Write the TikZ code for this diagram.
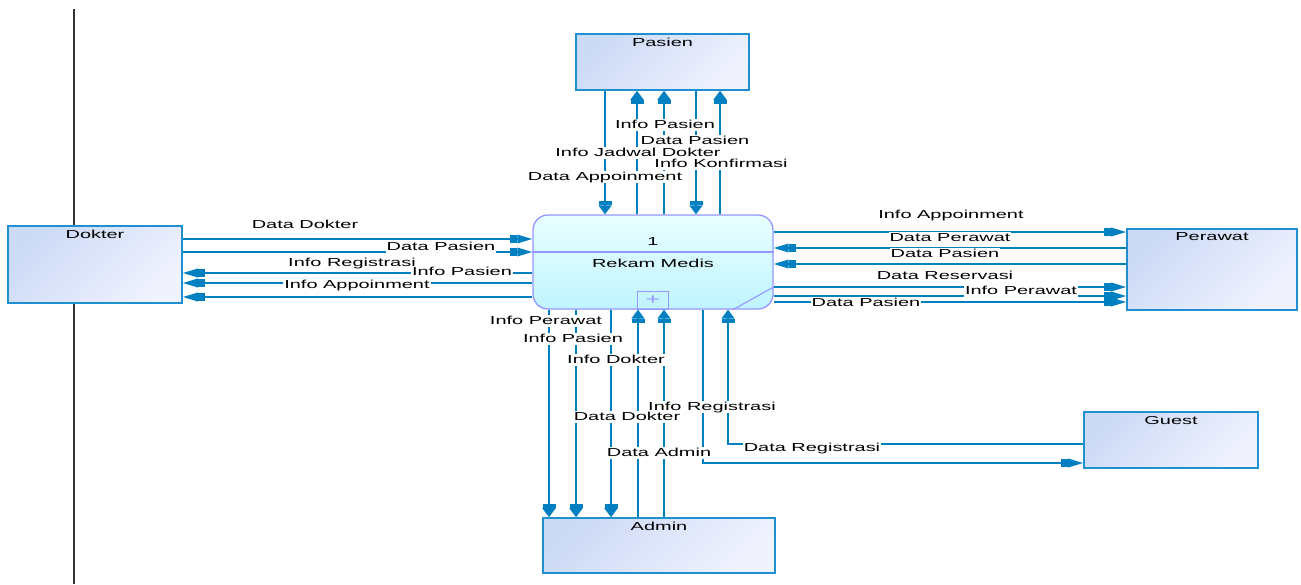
\documentclass[tikz,border=0pt]{standalone}
\usepackage{fontspec}
\setmainfont{Liberation Sans}[FakeStretch=1.72]
\usetikzlibrary{arrows.meta}

\definecolor{flowblue}{RGB}{0,128,192}
\definecolor{entline}{RGB}{30,144,208}
\definecolor{enttop}{RGB}{204,218,246}
\definecolor{entbot}{RGB}{240,242,254}
\definecolor{procline}{RGB}{150,150,255}
\definecolor{proctop}{RGB}{232,255,255}
\definecolor{procbot}{RGB}{192,244,255}

\begin{document}
\begin{tikzpicture}[x=1pt,y=-1pt,
  every node/.style={font=\fontsize{11.6}{13}\selectfont},
  entity/.style={draw=entline,line width=1.6pt,top color=enttop,bottom color=entbot,shading angle=45,inner sep=0pt},
  entlbl/.style={anchor=north,inner sep=0pt,yshift=-4.5pt},
  proc/.style={draw=procline,line width=1.3pt,rounded corners=15pt,top color=proctop,bottom color=procbot,minimum width=240,minimum height=94},
  subbox/.style={draw=procline,line width=1pt,minimum width=31,minimum height=18,inner sep=0pt,text=procline,font=\fontsize{15}{15}\selectfont},
  hflow/.style={draw=flowblue,line width=1.8pt,-{Rectangle[length=7pt,width=8.5pt]Triangle[length=15pt,width=8.5pt]}},
  vflow/.style={draw=flowblue,line width=1.8pt,-{Rectangle[length=4pt,width=13pt]Triangle[length=9pt,width=13pt]}},
  lbl/.style={fill=white,inner sep=1pt,text height=8pt,text depth=2pt},
  lane/.style={draw=black!80,line width=1.8pt}]
\path[use as bounding box,fill=white] (0,0) rectangle (1301,584);
% Lane
\draw[lane] (74,9) -- (74,584);
% Entities
\node[entity,minimum width=173,minimum height=56,label={[entlbl]north:Pasien}] (pasien) at (662.5,62) {};
\node[entity,minimum width=174,minimum height=77,label={[entlbl]north:Dokter}] (dokter) at (95,264.5) {};
\node[entity,minimum width=170,minimum height=81,label={[entlbl]north:Perawat}] (perawat) at (1212,269.5) {};
\node[entity,minimum width=174,minimum height=56,label={[entlbl]north:Guest}] (guest) at (1171,440) {};
\node[entity,minimum width=232,minimum height=55,label={[entlbl]north:Admin}] (admin) at (659,545.5) {};
% Process
\node[proc] (proc) at (653,262) {};
\draw[procline,line width=1.1pt] (proc.west |- 0,252) -- (proc.east |- 0,252);
\draw[procline,line width=1.1pt] (proc.south -| 733,0) -- (proc.east |- 0,287);
\node (pnum) at (653,242) {1};
\node (pname) at (653,263) {Rekam Medis};
\node[subbox] (sub) at (653,300.5) {+};
% Flows with Pasien
\draw[vflow] (pasien.south -| 605,0) -- (proc.north -| 605,0);
\draw[vflow] (proc.north -| 637,0) -- (pasien.south -| 637,0);
\draw[vflow] (proc.north -| 664,0) -- (pasien.south -| 664,0);
\draw[vflow] (pasien.south -| 696,0) -- (proc.north -| 696,0);
\draw[vflow] (proc.north -| 720,0) -- (pasien.south -| 720,0);
% Flows with Dokter
\draw[hflow] (dokter.east |- 0,239) -- (proc.west |- 0,239);
\draw[hflow] (dokter.east |- 0,252) -- (proc.west |- 0,252);
\draw[hflow] (proc.west |- 0,273) -- (dokter.east |- 0,273);
\draw[hflow] (proc.west |- 0,283) -- (dokter.east |- 0,283);
\draw[hflow] (proc.west |- 0,297) -- (dokter.east |- 0,297);
% Flows with Perawat
\draw[hflow] (proc.east |- 0,232) -- (perawat.west |- 0,232);
\draw[hflow] (perawat.west |- 0,248) -- (proc.east |- 0,248);
\draw[hflow] (perawat.west |- 0,264) -- (proc.east |- 0,264);
\draw[hflow] (proc.east |- 0,287) -- (perawat.west |- 0,287);
\draw[hflow] (proc.east |- 0,296) -- (perawat.west |- 0,296);
\draw[hflow] (proc.east |- 0,302) -- (perawat.west |- 0,302);
% Flows with Admin
\draw[vflow] (proc.south -| 549,0) -- (admin.north -| 549,0);
\draw[vflow] (proc.south -| 576,0) -- (admin.north -| 576,0);
\draw[vflow] (proc.south -| 611,0) -- (admin.north -| 611,0);
\draw[vflow] (admin.north -| 638,0) -- (proc.south -| 638,0);
\draw[vflow] (admin.north -| 664,0) -- (proc.south -| 664,0);
% Flows with Guest
\draw[hflow] (proc.south -| 703,0) |- (guest.west |- 0,463);
\draw[vflow] (guest.west |- 0,444) -| (proc.south -| 728,0);
% Labels
\node[lbl] (l-pinfo) at (665,125) {Info Pasien};
\node[lbl] (l-pdata) at (695,141) {Data Pasien};
\node[lbl] (l-jadwal) at (638,153) {Info Jadwal Dokter};
\node[lbl] (l-konf) at (721,164) {Info Konfirmasi};
\node[lbl] (l-appt) at (605,177) {Data Appoinment};
\node[lbl] (l-ddok) at (305,225) {Data Dokter};
\node[lbl] (l-dpas) at (441,247) {Data Pasien};
\node[lbl] (l-ireg) at (352,263) {Info Registrasi};
\node[lbl] (l-ipas) at (462,272) {Info Pasien};
\node[lbl] (l-iappt) at (357,285) {Info Appoinment};
\node[lbl] (r-iappt) at (951,215) {Info Appoinment};
\node[lbl] (r-dper) at (950,238) {Data Perawat};
\node[lbl] (r-dpas) at (945,254) {Data Pasien};
\node[lbl] (r-dres) at (945,276) {Data Reservasi};
\node[lbl] (r-iper) at (1021,291) {Info Perawat};
\node[lbl] (r-dpas2) at (866,303) {Data Pasien};
\node[lbl] (b-iper) at (546,321) {Info Perawat};
\node[lbl] (b-ipas) at (573,339) {Info Pasien};
\node[lbl] (b-idok) at (616,360) {Info Dokter};
\node[lbl] (b-ireg) at (712,407) {Info Registrasi};
\node[lbl] (b-ddok) at (627,417) {Data Dokter};
\node[lbl] (b-dadm) at (659,453) {Data Admin};
\node[lbl] (b-dreg) at (812,448) {Data Registrasi};
\end{tikzpicture}
\end{document}
